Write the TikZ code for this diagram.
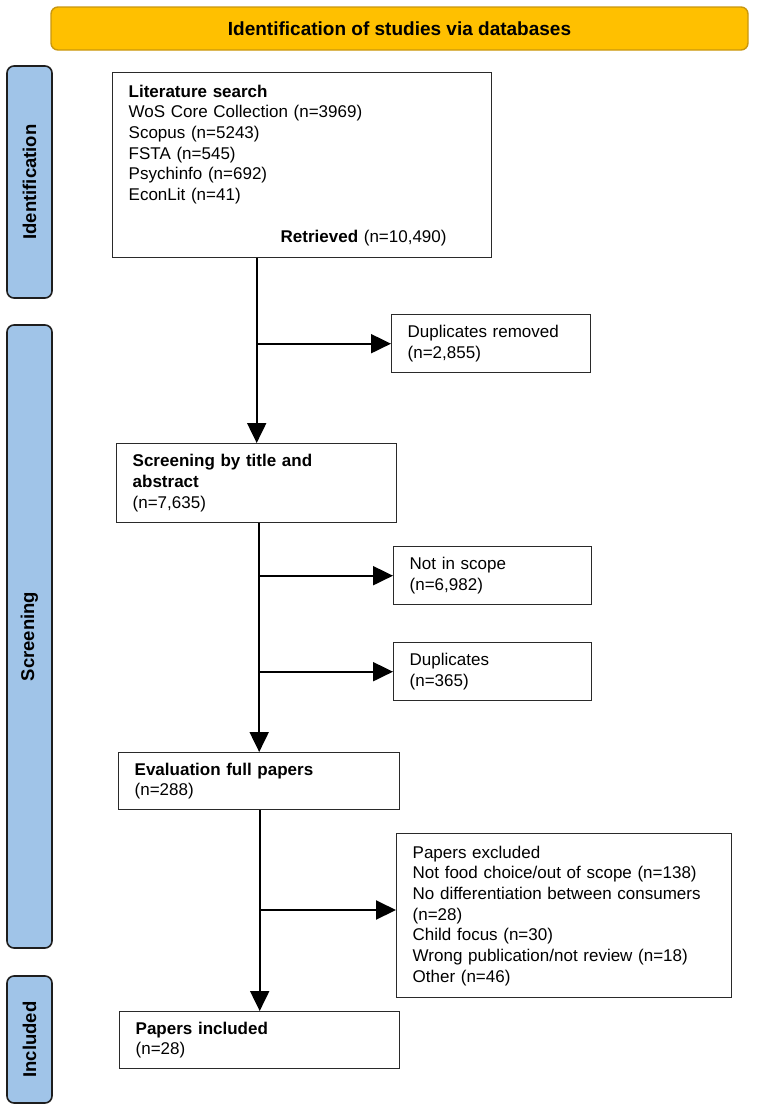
\documentclass[tikz,border=0pt]{standalone}
\usepackage{fontspec}
\setmainfont{Liberation Sans}
\usetikzlibrary{arrows.meta}
\definecolor{barfill}{HTML}{FFC000}
\definecolor{bardraw}{HTML}{C9970E}
\definecolor{sidefill}{HTML}{A0C4E8}
\definecolor{sidedraw}{HTML}{1E1E1E}
\definecolor{boxdraw}{HTML}{2A2A2A}
\begin{document}
\begin{tikzpicture}[x=1pt,y=-1pt,
 box/.style={draw=boxdraw, line width=1.4pt, rectangle, align=left, inner xsep=16pt, inner ysep=0pt,
   font=\fontsize{17}{20.7}\selectfont, anchor=north west},
 side/.style={draw=sidedraw, fill=sidefill, line width=1.6pt, rounded corners=7pt, rotate=90,
   minimum height=45pt, inner sep=0pt, font=\fontsize{18.5}{20}\selectfont\bfseries},
 arr/.style={line width=2pt, draw=black, -{Triangle[length=20pt,width=19pt]}}]
\useasboundingbox (0,0) rectangle (761,1111);

% header bar
\node[draw=bardraw, fill=barfill, rounded corners=7pt, line width=1.4pt,
  minimum width=697pt, minimum height=43pt, inner sep=0pt,
  font=\fontsize{19}{22}\selectfont\bfseries] (bar) at (399.5,28.5)
  {Identification of studies via databases};

% side labels
\node[side, minimum width=232pt] (sid) at (29.5,182) {Identification};
\node[side, minimum width=623pt] (sscr) at (29.5,636.5) {Screening};
\node[side, minimum width=127pt] (sinc) at (29.5,1039.5) {Included};

% boxes
\node[box, text width=347pt, minimum height=185pt] (lit) at (112,72)
  {\textbf{Literature search}\\
   WoS Core Collection (n=3969)\\
   Scopus (n=5243)\\
   FSTA (n=545)\\
   Psychinfo (n=692)\\
   EconLit (n=41)\\[20.7pt]
   \hspace*{152pt}\textbf{Retrieved} (n=10,490)};

\node[box, text width=167pt, minimum height=58pt] (dupR) at (391,314)
  {Duplicates removed\\(n=2,855)};

\node[box, text width=248pt, minimum height=79pt] (scr) at (116,443)
  {\textbf{Screening by title and}\\\textbf{abstract}\\(n=7,635)};

\node[box, text width=166pt, minimum height=58pt] (ns) at (393,546)
  {Not in scope\\(n=6,982)};

\node[box, text width=166pt, minimum height=58pt] (dup) at (393,642)
  {Duplicates\\(n=365)};

\node[box, text width=249pt, minimum height=57pt] (eval) at (118,752)
  {\textbf{Evaluation full papers}\\(n=288)};

\node[box, text width=303pt, minimum height=164pt] (excl) at (396,833)
  {Papers excluded\\
   Not food choice/out of scope (n=138)\\
   No differentiation between consumers\\
   (n=28)\\
   Child focus (n=30)\\
   Wrong publication/not review (n=18)\\
   Other (n=46)};

\node[box, text width=248pt, minimum height=57pt] (incl) at (119,1011)
  {\textbf{Papers included}\\(n=28)};

% connectors
\coordinate (t1) at (lit.south -| scr.north);
\draw[arr] (t1) -- (scr.north);
\draw[arr] (t1 |- dupR.west) -- (dupR.west);

\coordinate (t2) at (scr.south -| eval.north);
\draw[arr] (t2) -- (eval.north);
\draw[arr] (t2 |- ns.west) -- (ns.west);
\draw[arr] (t2 |- dup.west) -- (dup.west);

\coordinate (t3) at (eval.south -| incl.north);
\draw[arr] (t3) -- (incl.north);
\coordinate (b3) at (0,910);
\draw[arr] (t3 |- b3) -- (b3 -| excl.west);
\end{tikzpicture}
\end{document}
